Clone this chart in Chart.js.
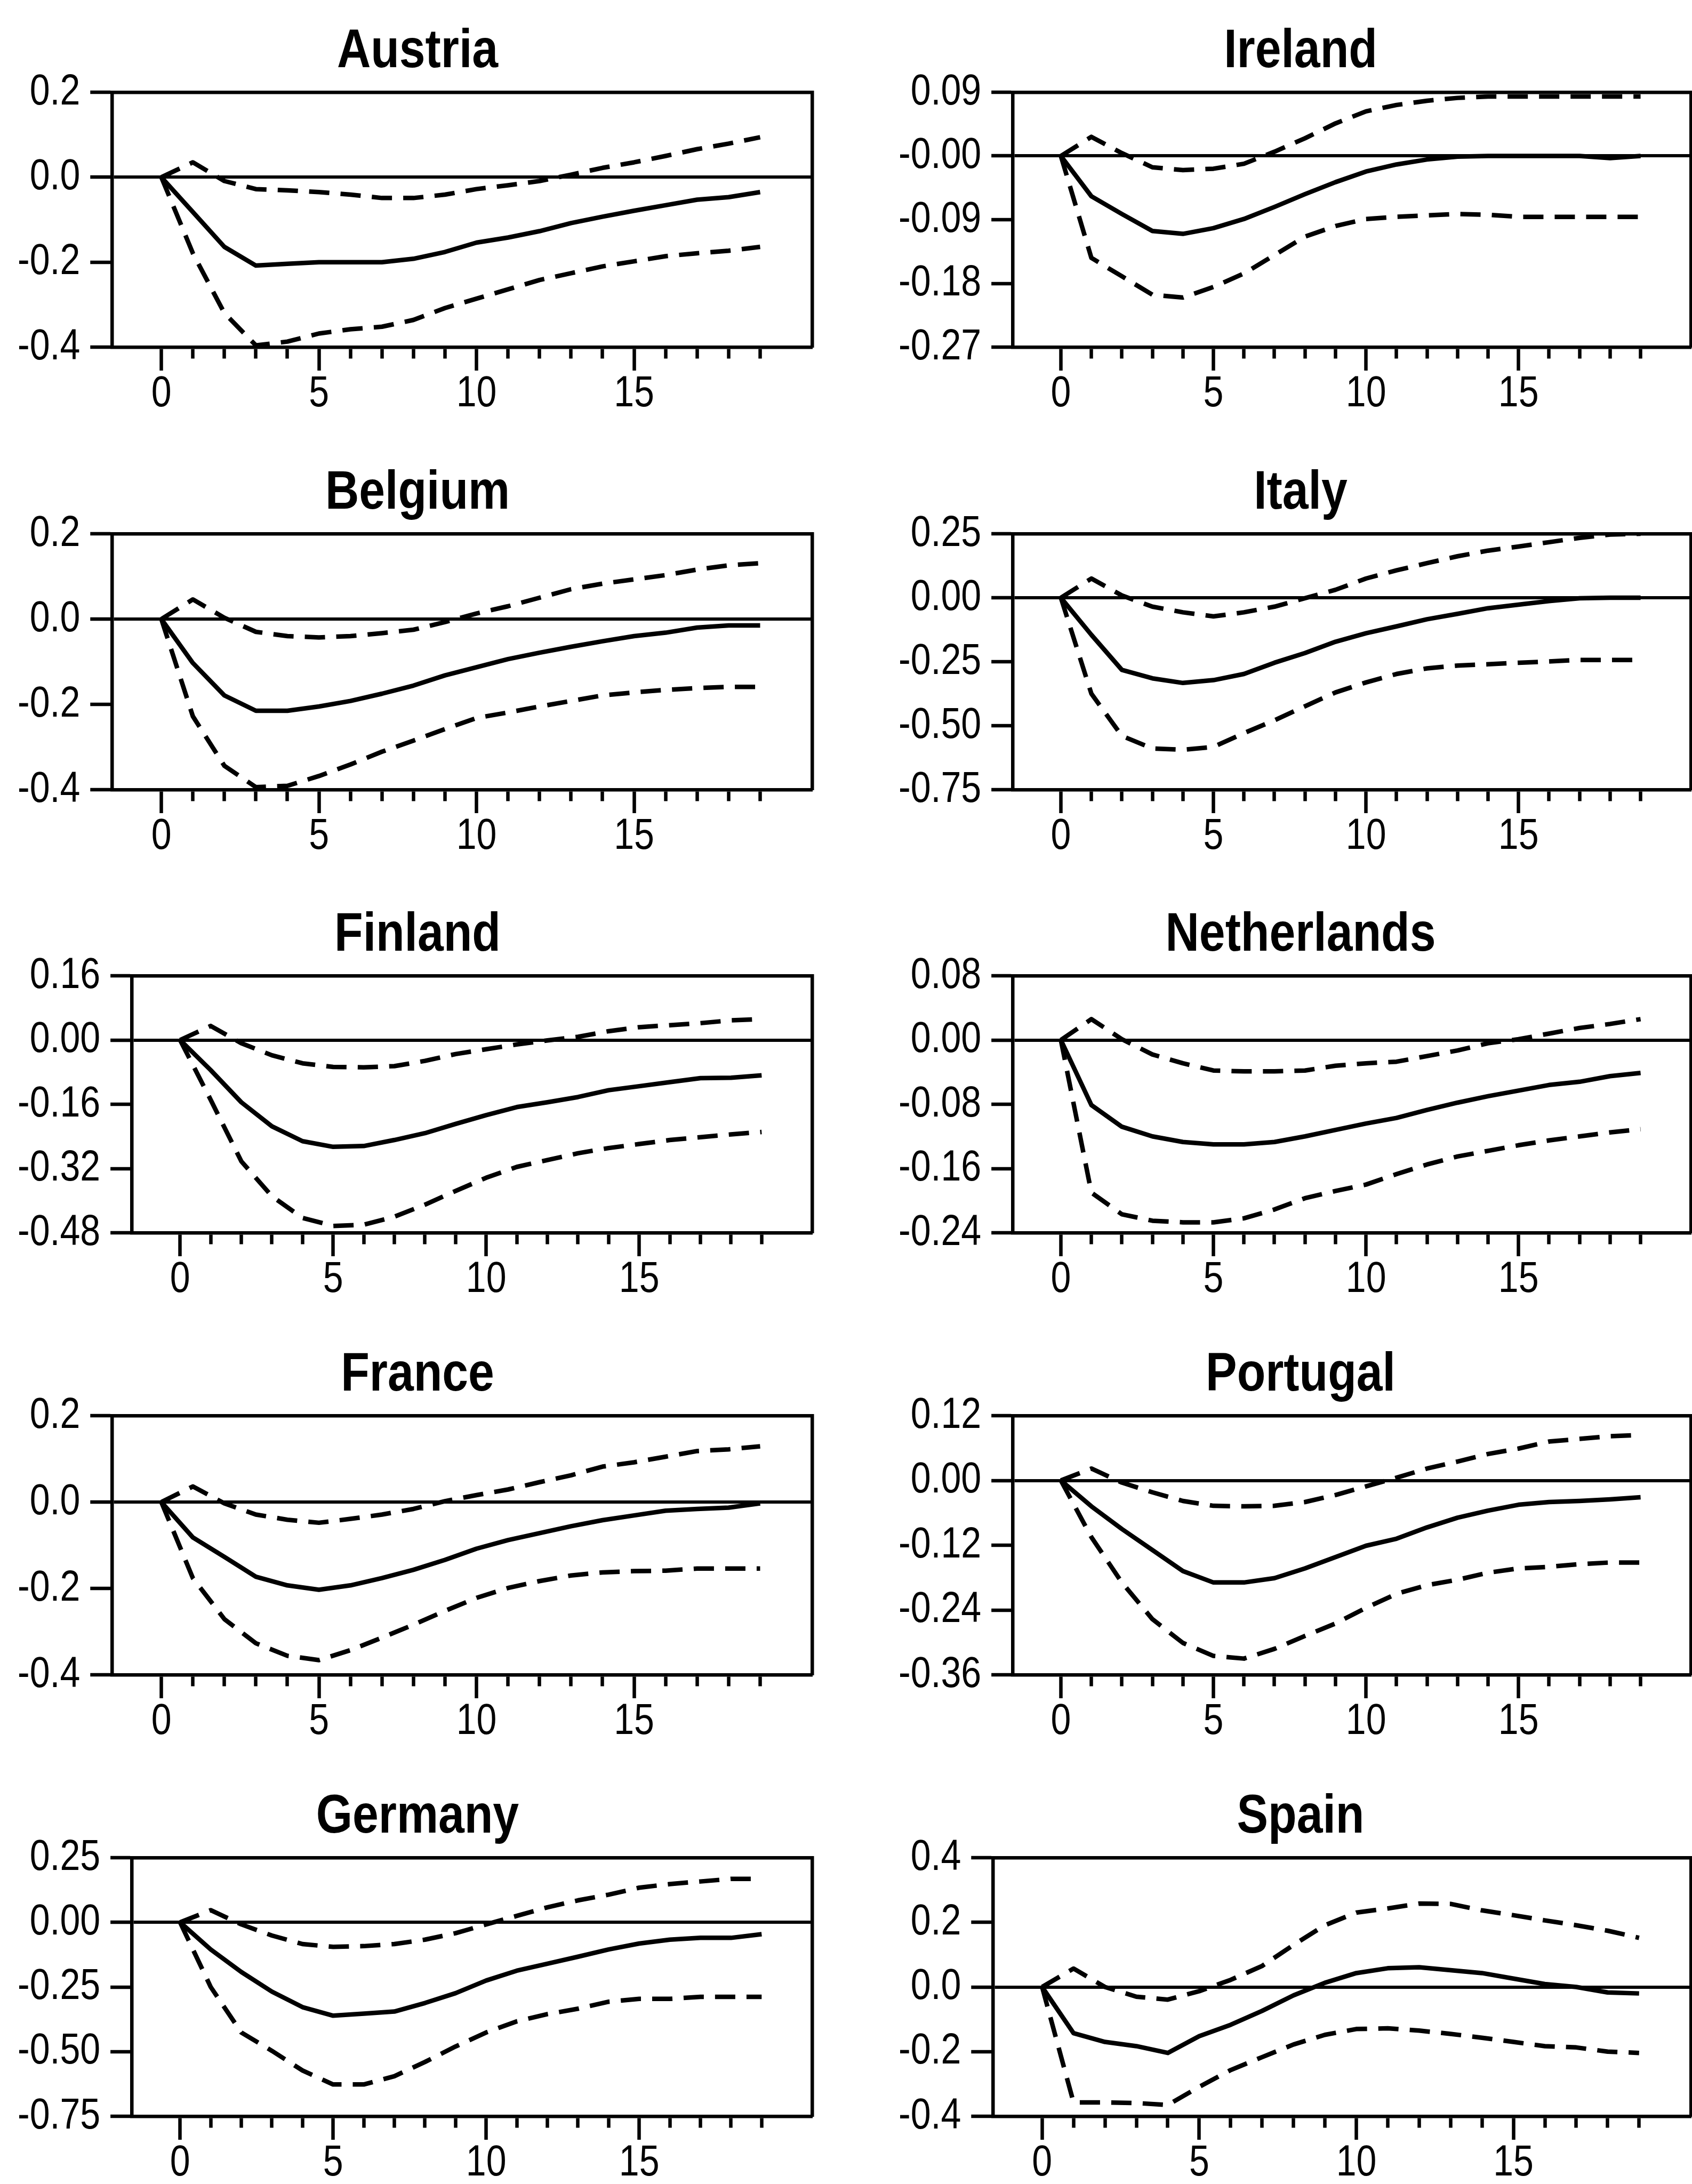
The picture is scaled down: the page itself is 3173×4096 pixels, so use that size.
<!DOCTYPE html>
<html>
<head>
<meta charset="utf-8">
<script src="https://cdn.jsdelivr.net/npm/chart.js@4/dist/chart.umd.min.js"></script>
<style>
  html, body { margin: 0; padding: 0; background: #fff; overflow: hidden; }
  body { width: 3173px; height: 4096px; position: relative; }
  canvas { position: absolute; }
</style>
</head>
<body>
<script>
// Horizon (periods after the shock)
const periods = [0, 1, 2, 3, 4, 5, 6, 7, 8, 9, 10, 11, 12, 13, 14, 15, 16, 17, 18, 19];

// Impulse responses with upper / lower confidence bands
const austriaResponse = [0, -0.082, -0.164, -0.208, -0.204, -0.2, -0.2, -0.2, -0.192, -0.176, -0.154, -0.142, -0.127, -0.108, -0.093, -0.079, -0.066, -0.053, -0.047, -0.035];
const austriaUpper    = [0, 0.035, -0.009, -0.028, -0.031, -0.035, -0.041, -0.049, -0.049, -0.041, -0.028, -0.019, -0.009, 0.006, 0.022, 0.035, 0.05, 0.066, 0.079, 0.094];
const austriaLower    = [0, -0.179, -0.32, -0.396, -0.387, -0.368, -0.358, -0.352, -0.336, -0.308, -0.286, -0.264, -0.242, -0.226, -0.21, -0.198, -0.186, -0.179, -0.173, -0.164];
const austriaTicks    = ['0.2', '0.0', '-0.2', '-0.4'];

const irelandResponse = [0, -0.057, -0.082, -0.106, -0.11, -0.102, -0.089, -0.072, -0.054, -0.037, -0.022, -0.012, -0.005, -0.001, 0, 0, 0, 0, -0.003, 0];
const irelandUpper    = [0, 0.027, 0.004, -0.016, -0.02, -0.018, -0.011, 0.006, 0.025, 0.046, 0.063, 0.072, 0.078, 0.082, 0.084, 0.084, 0.084, 0.084, 0.084, 0.084];
const irelandLower    = [0, -0.144, -0.17, -0.196, -0.2, -0.185, -0.166, -0.14, -0.114, -0.099, -0.089, -0.086, -0.084, -0.082, -0.083, -0.086, -0.086, -0.086, -0.086, -0.086];
const irelandTicks    = ['0.09', '-0.00', '-0.09', '-0.18', '-0.27'];

const belgiumResponse = [0, -0.103, -0.179, -0.215, -0.215, -0.205, -0.192, -0.175, -0.156, -0.132, -0.113, -0.094, -0.079, -0.065, -0.052, -0.04, -0.032, -0.02, -0.015, -0.015];
const belgiumUpper    = [0, 0.046, 0.003, -0.03, -0.04, -0.043, -0.04, -0.033, -0.025, -0.007, 0.013, 0.03, 0.05, 0.07, 0.083, 0.093, 0.103, 0.116, 0.126, 0.131];
const belgiumLower    = [0, -0.228, -0.344, -0.394, -0.391, -0.368, -0.341, -0.311, -0.285, -0.258, -0.232, -0.219, -0.205, -0.192, -0.179, -0.172, -0.166, -0.162, -0.159, -0.159];
const belgiumTicks    = ['0.2', '0.0', '-0.2', '-0.4'];

const italyResponse   = [0, -0.145, -0.282, -0.315, -0.333, -0.322, -0.298, -0.254, -0.216, -0.172, -0.139, -0.112, -0.084, -0.063, -0.041, -0.027, -0.013, -0.002, 0, 0];
const italyUpper      = [0, 0.075, 0.009, -0.035, -0.057, -0.073, -0.057, -0.035, -0.002, 0.031, 0.075, 0.107, 0.135, 0.162, 0.184, 0.2, 0.217, 0.234, 0.247, 0.25];
const italyLower      = [0, -0.375, -0.54, -0.589, -0.594, -0.583, -0.529, -0.479, -0.424, -0.37, -0.331, -0.298, -0.276, -0.265, -0.26, -0.254, -0.249, -0.243, -0.243, -0.243];
const italyTicks      = ['0.25', '0.00', '-0.25', '-0.50', '-0.75'];

const finlandResponse = [0, -0.075, -0.155, -0.215, -0.252, -0.266, -0.264, -0.249, -0.232, -0.209, -0.187, -0.167, -0.155, -0.142, -0.125, -0.115, -0.105, -0.095, -0.094, -0.088];
const finlandUpper    = [0, 0.035, -0.008, -0.038, -0.058, -0.067, -0.068, -0.065, -0.052, -0.035, -0.023, -0.011, -0.001, 0.008, 0.022, 0.032, 0.037, 0.042, 0.049, 0.052];
const finlandLower    = [0, -0.149, -0.302, -0.389, -0.443, -0.463, -0.46, -0.44, -0.41, -0.376, -0.343, -0.316, -0.299, -0.282, -0.269, -0.259, -0.249, -0.242, -0.235, -0.229];
const finlandTicks    = ['0.16', '0.00', '-0.16', '-0.32', '-0.48'];

const netherlandsResponse = [0, -0.081, -0.108, -0.12, -0.127, -0.13, -0.13, -0.127, -0.12, -0.112, -0.104, -0.097, -0.087, -0.078, -0.07, -0.063, -0.056, -0.052, -0.045, -0.041];
const netherlandsUpper    = [0, 0.026, 0.001, -0.018, -0.029, -0.038, -0.039, -0.039, -0.038, -0.032, -0.029, -0.027, -0.02, -0.013, -0.004, 0.001, 0.008, 0.015, 0.02, 0.026];
const netherlandsLower    = [0, -0.19, -0.217, -0.225, -0.227, -0.227, -0.222, -0.211, -0.197, -0.188, -0.18, -0.167, -0.155, -0.145, -0.138, -0.131, -0.125, -0.12, -0.115, -0.111];
const netherlandsTicks    = ['0.08', '0.00', '-0.08', '-0.16', '-0.24'];

const franceResponse  = [0, -0.082, -0.127, -0.173, -0.193, -0.203, -0.193, -0.176, -0.157, -0.134, -0.108, -0.088, -0.072, -0.056, -0.042, -0.031, -0.02, -0.016, -0.013, -0.003];
const franceUpper     = [0, 0.036, -0.003, -0.029, -0.041, -0.048, -0.039, -0.029, -0.016, 0.002, 0.016, 0.029, 0.046, 0.062, 0.082, 0.092, 0.105, 0.118, 0.122, 0.129];
const franceLower     = [0, -0.176, -0.271, -0.327, -0.356, -0.366, -0.343, -0.314, -0.284, -0.252, -0.222, -0.199, -0.183, -0.17, -0.163, -0.16, -0.159, -0.154, -0.154, -0.154];
const franceTicks     = ['0.2', '0.0', '-0.2', '-0.4'];

const portugalResponse = [0, -0.048, -0.09, -0.129, -0.168, -0.189, -0.189, -0.181, -0.163, -0.142, -0.121, -0.108, -0.087, -0.069, -0.056, -0.045, -0.04, -0.038, -0.035, -0.031];
const portugalUpper    = [0, 0.022, -0.004, -0.022, -0.038, -0.047, -0.048, -0.047, -0.04, -0.027, -0.011, 0.005, 0.022, 0.035, 0.049, 0.059, 0.072, 0.077, 0.082, 0.084];
const portugalLower    = [0, -0.105, -0.189, -0.257, -0.301, -0.325, -0.33, -0.312, -0.288, -0.265, -0.236, -0.21, -0.194, -0.184, -0.171, -0.163, -0.16, -0.155, -0.152, -0.152];
const portugalTicks    = ['0.12', '0.00', '-0.12', '-0.24', '-0.36'];

const germanyResponse = [0, -0.105, -0.192, -0.268, -0.328, -0.361, -0.353, -0.345, -0.312, -0.274, -0.225, -0.187, -0.16, -0.133, -0.105, -0.082, -0.067, -0.06, -0.06, -0.046];
const germanyUpper    = [0, 0.047, -0.008, -0.051, -0.084, -0.095, -0.092, -0.084, -0.067, -0.042, -0.008, 0.025, 0.058, 0.085, 0.107, 0.134, 0.148, 0.158, 0.168, 0.168];
const germanyLower    = [0, -0.25, -0.426, -0.497, -0.573, -0.627, -0.627, -0.595, -0.54, -0.48, -0.426, -0.383, -0.355, -0.334, -0.307, -0.296, -0.296, -0.288, -0.288, -0.288];
const germanyTicks    = ['0.25', '0.00', '-0.25', '-0.50', '-0.75'];

const spainResponse   = [0, -0.143, -0.17, -0.183, -0.204, -0.152, -0.117, -0.074, -0.026, 0.013, 0.043, 0.058, 0.061, 0.052, 0.043, 0.026, 0.009, 0, -0.017, -0.02];
const spainUpper      = [0, 0.057, 0, -0.03, -0.039, -0.013, 0.022, 0.065, 0.13, 0.191, 0.23, 0.243, 0.258, 0.257, 0.237, 0.222, 0.206, 0.191, 0.174, 0.152];
const spainLower      = [0, -0.357, -0.357, -0.359, -0.365, -0.309, -0.257, -0.217, -0.178, -0.148, -0.13, -0.128, -0.135, -0.145, -0.157, -0.17, -0.183, -0.187, -0.2, -0.204];
const spainTicks      = ['0.4', '0.2', '0.0', '-0.2', '-0.4'];

// Panel grid: column 0 on the left, column 1 on the right
const panels = [
  { name: 'Austria',     col: 0, row: 0, response: austriaResponse,     upper: austriaUpper,     lower: austriaLower,     ticks: austriaTicks },
  { name: 'Ireland',     col: 1, row: 0, response: irelandResponse,     upper: irelandUpper,     lower: irelandLower,     ticks: irelandTicks },
  { name: 'Belgium',     col: 0, row: 1, response: belgiumResponse,     upper: belgiumUpper,     lower: belgiumLower,     ticks: belgiumTicks },
  { name: 'Italy',       col: 1, row: 1, response: italyResponse,       upper: italyUpper,       lower: italyLower,       ticks: italyTicks },
  { name: 'Finland',     col: 0, row: 2, response: finlandResponse,     upper: finlandUpper,     lower: finlandLower,     ticks: finlandTicks },
  { name: 'Netherlands', col: 1, row: 2, response: netherlandsResponse, upper: netherlandsUpper, lower: netherlandsLower, ticks: netherlandsTicks },
  { name: 'France',      col: 0, row: 3, response: franceResponse,      upper: franceUpper,      lower: franceLower,      ticks: franceTicks },
  { name: 'Portugal',    col: 1, row: 3, response: portugalResponse,    upper: portugalUpper,    lower: portugalLower,    ticks: portugalTicks },
  { name: 'Germany',     col: 0, row: 4, response: germanyResponse,     upper: germanyUpper,     lower: germanyLower,     ticks: germanyTicks },
  { name: 'Spain',       col: 1, row: 4, response: spainResponse,       upper: spainUpper,       lower: spainLower,       ticks: spainTicks }
];

// ---- layout and style ----
const FONT = '"Liberation Sans", Arial, sans-serif';
const TICK_SIZE = 82;
const TICK_NARROW = 0.83;      // condensed tick lettering
const TITLE_SIZE = 102;
const TITLE_NARROW = 0.86;     // condensed title lettering
const TITLE_GAP = 47;          // title baseline above the plot frame
const TOP_PAD = 172;
const X_TICK_LEN = 44;
const X_MINOR_LEN = 18;
const X_LABEL_PAD = 3.5;
const X_AXIS_H = X_TICK_LEN + TICK_SIZE + 2 * X_LABEL_PAD;
const Y_TICK_LEN = 40.5;
const Y_LABEL_PAD = 19;
const BOTTOM_PAD = 20;
const X_MIN = -1.57;
const X_MAX = 20.65;
const FRAME_W = 6.5;
const ZERO_W = 6;
const LINE_W = 8.5;
const DASH = [38, 21];

const rowPlotTop    = [172.5, 1001, 1830, 2654.5, 3484];
const rowPlotBottom = [650.8, 1481, 2311.5, 3140.5, 3968.5];
const columns = [
  { left: 0,    width: 1566, padLeft: 14, padRight: 43 },
  { left: 1666, width: 1546, padLeft: 0,  padRight: 41 }
];

Chart.defaults.font.family = FONT;
Chart.defaults.color = '#000';

function narrowText(ctx, text, x, y, squeeze) {
  ctx.save();
  ctx.translate(x, y);
  ctx.scale(squeeze, 1);
  ctx.fillText(text, 0, 0);
  ctx.restore();
}

// Panel title plus condensed tick labels, placed from the chart's own scales
const lettering = {
  id: 'lettering',
  afterDraw(chart, args, opts) {
    const ctx = chart.ctx;
    const xs = chart.scales.x;
    const ys = chart.scales.y;
    ctx.save();
    ctx.fillStyle = '#000';

    ctx.font = 'bold ' + TITLE_SIZE + 'px ' + FONT;
    ctx.textAlign = 'center';
    ctx.textBaseline = 'alphabetic';
    narrowText(ctx, opts.title, chart.width / 2, chart.chartArea.top - TITLE_GAP, TITLE_NARROW);

    ctx.font = TICK_SIZE + 'px ' + FONT;
    ctx.textBaseline = 'middle';
    ctx.textAlign = 'center';
    const labelY = xs.top + X_TICK_LEN + X_LABEL_PAD + TICK_SIZE / 2;
    xs.ticks.forEach(t => {
      if (t.value % 5 === 0) narrowText(ctx, String(t.value), xs.getPixelForValue(t.value), labelY, TICK_NARROW);
    });

    ctx.textAlign = 'right';
    const labelX = ys.right - Y_TICK_LEN - Y_LABEL_PAD;
    ys.ticks.forEach((t, i) => {
      narrowText(ctx, opts.yLabels[i], labelX, ys.getPixelForValue(t.value), TICK_NARROW);
    });
    ctx.restore();
  }
};

function framingAxis(position, min, max) {
  return {
    type: 'linear', position, min, max,
    ticks: { display: false },
    grid: { drawOnChartArea: false, drawTicks: false },
    border: { display: true, color: '#000', width: FRAME_W }
  };
}

function drawPanel(p) {
  const col = columns[p.col];
  const plotH = rowPlotBottom[p.row] - rowPlotTop[p.row];
  const top = Math.round(rowPlotTop[p.row] - TOP_PAD);
  const height = Math.round(TOP_PAD + plotH + X_AXIS_H + BOTTOM_PAD);

  const canvas = document.createElement('canvas');
  canvas.width = col.width;
  canvas.height = height;
  canvas.style.left = col.left + 'px';
  canvas.style.top = top + 'px';
  canvas.style.width = col.width + 'px';
  canvas.style.height = height + 'px';
  document.body.appendChild(canvas);

  const tickValues = p.ticks.map(Number);
  const yMax = tickValues[0];
  const yMin = tickValues[tickValues.length - 1];
  const points = arr => periods.map((x, i) => ({ x, y: arr[i] }));
  const band = arr => ({
    data: points(arr), xAxisID: 'x', yAxisID: 'y',
    borderColor: '#000', borderWidth: LINE_W, borderDash: DASH,
    pointRadius: 0, tension: 0, fill: false
  });

  new Chart(canvas, {
    type: 'line',
    data: {
      datasets: [
        band(p.upper),
        band(p.lower),
        { data: points(p.response), xAxisID: 'x', yAxisID: 'y',
          borderColor: '#000', borderWidth: LINE_W, pointRadius: 0, tension: 0, fill: false }
      ]
    },
    options: {
      responsive: false,
      animation: false,
      devicePixelRatio: 1,
      layout: { padding: { top: TOP_PAD, bottom: BOTTOM_PAD, left: col.padLeft, right: col.padRight } },
      elements: { line: { borderJoinStyle: 'round', borderCapStyle: 'butt' } },
      plugins: {
        legend: { display: false },
        tooltip: { enabled: false },
        lettering: { title: p.name, yLabels: p.ticks }
      },
      scales: {
        x: {
          type: 'linear', position: 'bottom', min: X_MIN, max: X_MAX,
          afterBuildTicks: s => { s.ticks = periods.map(v => ({ value: v })); },
          afterFit: s => { s.height = X_AXIS_H; },
          ticks: { display: false },
          grid: {
            drawOnChartArea: false, drawTicks: true, tickLength: X_TICK_LEN,
            tickWidth: FRAME_W, tickColor: '#000',
            // short marks for the single periods, long ones every five
            tickBorderDash: ctx => (ctx.tick && ctx.tick.value % 5 === 0 ? [] : [X_MINOR_LEN, 400])
          },
          border: { display: true, color: '#000', width: FRAME_W }
        },
        xTop: framingAxis('top', X_MIN, X_MAX),
        y: {
          type: 'linear', position: 'left', min: yMin, max: yMax,
          afterBuildTicks: s => { s.ticks = tickValues.map(v => ({ value: v })); },
          afterFit: s => {
            const c = s.ctx;
            c.save();
            c.font = TICK_SIZE + 'px ' + FONT;
            const widest = Math.max(...p.ticks.map(t => c.measureText(t).width));
            c.restore();
            s.width = Y_TICK_LEN + 2 * Y_LABEL_PAD + widest * TICK_NARROW;
          },
          ticks: { display: false },
          grid: {
            drawOnChartArea: true, drawTicks: true, tickLength: Y_TICK_LEN,
            tickWidth: FRAME_W, tickColor: '#000',
            color: ctx => (ctx.tick && ctx.tick.value === 0 ? '#000' : 'rgba(0,0,0,0)'),
            lineWidth: ZERO_W
          },
          border: { display: true, color: '#000', width: FRAME_W }
        },
        yRight: framingAxis('right', yMin, yMax)
      }
    },
    plugins: [lettering]
  });
}

panels.forEach(drawPanel);
</script>
</body>
</html>
